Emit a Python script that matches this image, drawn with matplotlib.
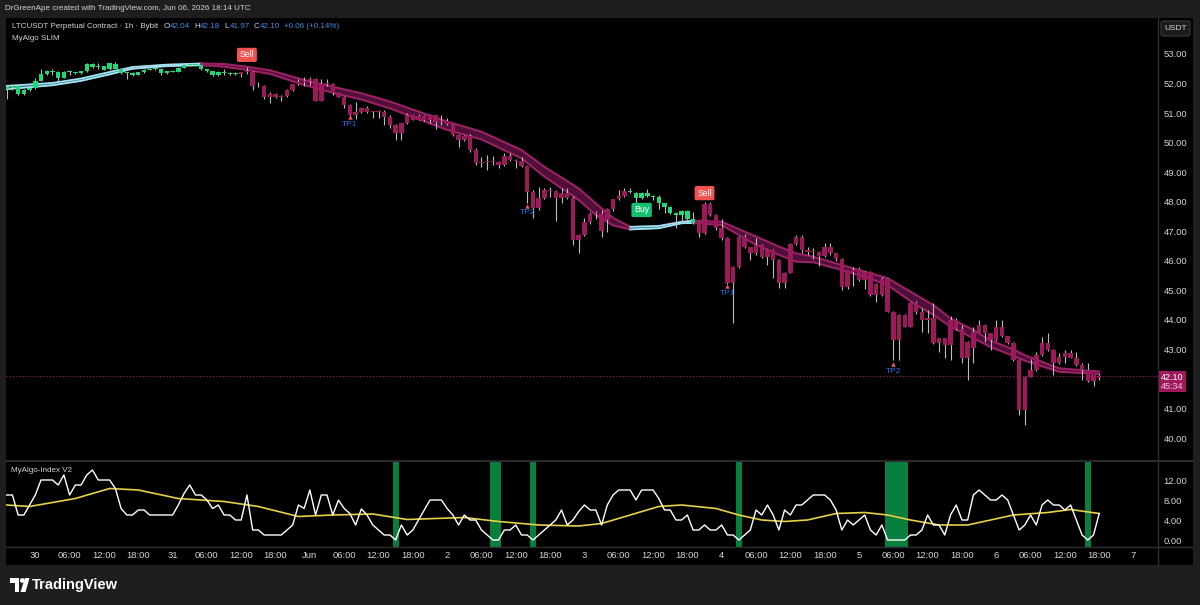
import numpy as np
import matplotlib
matplotlib.use('Agg')
import matplotlib.pyplot as plt
from matplotlib.patches import Rectangle, FancyBboxPatch, Polygon, Circle

plt.rcParams['font.family'] = ['Liberation Sans', 'DejaVu Sans']

# ---------------- data (LTCUSDT 1h, May 29 19:00 -> Jun 6 18:00) ----------------
opens = [
    51.80, 51.88, 51.90, 51.64, 51.78, 51.86, 52.10, 52.32, 52.42, 52.40,
    52.20, 52.39, 52.38, 52.35, 52.42, 52.66, 52.55, 52.59, 52.50, 52.66,
    52.50, 52.35, 52.36, 52.30, 52.38, 52.47, 52.49, 52.50, 52.35, 52.42,
    52.40, 52.53, 52.63, 52.62, 52.62, 52.48, 52.42, 52.28, 52.40, 52.36,
    52.33, 52.33, 52.38, 52.40, 51.90, 51.93, 51.55, 51.66, 51.55, 51.57,
    51.78, 51.97, 52.06, 52.10, 52.15, 51.42, 51.98, 52.00, 51.68, 51.56,
    51.27, 50.93, 51.05, 51.16, 51.02, 51.06, 51.04, 50.88, 50.60, 50.31,
    50.65, 50.93, 50.78, 50.90, 50.78, 50.93, 50.70, 50.72, 50.62, 50.27,
    50.10, 50.22, 49.75, 49.30, 49.36, 49.38, 49.36, 49.24, 49.55, 49.42,
    49.38, 49.20, 48.34, 47.78, 48.14, 48.40, 48.36, 48.13, 48.28, 48.14,
    46.70, 46.87, 47.32, 47.60, 47.58, 47.38, 47.74, 48.08, 48.19, 48.37,
    48.31, 48.13, 48.31, 48.19, 48.17, 47.94, 47.83, 47.61, 47.55, 47.70,
    47.40, 47.28, 46.93, 47.91, 47.55, 47.10, 46.76, 45.24, 45.78, 46.82,
    46.46, 46.25, 46.54, 46.14, 46.37, 46.03, 45.24, 45.60, 46.57, 46.82,
    46.37, 46.31, 46.30, 46.16, 46.48, 46.25, 46.05, 45.10, 45.69, 45.71,
    45.35, 45.63, 44.84, 44.85, 45.40, 44.28, 43.32, 44.17, 43.77, 44.56,
    44.25, 44.00, 44.05, 43.21, 43.37, 43.15, 43.99, 43.70, 42.70, 43.04,
    43.60, 43.83, 43.55, 43.32, 43.77, 43.45, 43.21, 42.64, 40.95, 42.08,
    42.30, 42.81, 43.21, 42.98, 42.53, 42.75, 42.89, 42.72, 42.47, 42.30,
    41.92, 42.04]
highs = [
    51.92, 52.00, 51.93, 51.80, 51.90, 52.18, 52.48, 52.45, 52.48, 52.42,
    52.42, 52.46, 52.40, 52.44, 52.68, 52.68, 52.71, 52.60, 52.70, 52.73,
    52.52, 52.40, 52.38, 52.40, 52.49, 52.52, 52.55, 52.52, 52.44, 52.47,
    52.55, 52.68, 52.68, 52.66, 52.64, 52.50, 52.44, 52.42, 52.48, 52.38,
    52.38, 52.40, 52.55, 52.42, 52.05, 51.95, 51.70, 51.68, 51.62, 51.80,
    51.99, 52.17, 52.23, 52.22, 52.18, 52.14, 52.17, 52.02, 51.70, 51.58,
    51.30, 51.39, 51.18, 51.25, 51.08, 51.12, 51.10, 50.93, 50.62, 50.66,
    51.01, 50.98, 50.97, 50.95, 50.97, 50.95, 50.93, 50.82, 50.63, 50.30,
    50.25, 50.30, 49.82, 49.52, 49.58, 49.54, 49.38, 49.64, 49.64, 49.46,
    49.50, 49.24, 48.40, 48.49, 48.46, 48.50, 48.40, 48.45, 48.48, 48.18,
    46.90, 47.44, 47.66, 47.70, 47.73, 47.78, 48.10, 48.40, 48.45, 48.45,
    48.33, 48.33, 48.43, 48.23, 48.23, 47.97, 47.85, 47.65, 47.72, 47.72,
    47.66, 47.30, 48.00, 48.00, 47.60, 47.40, 46.80, 45.82, 46.85, 46.90,
    46.48, 46.76, 46.57, 46.40, 46.40, 46.05, 45.62, 46.60, 46.87, 46.87,
    46.45, 46.42, 46.33, 46.61, 46.59, 46.27, 46.08, 45.70, 45.80, 45.80,
    45.65, 45.66, 45.26, 45.45, 45.42, 44.30, 44.20, 44.20, 44.62, 44.64,
    44.39, 44.33, 44.56, 43.40, 43.40, 44.13, 44.05, 43.83, 43.30, 43.77,
    43.99, 43.86, 43.57, 43.99, 43.99, 43.47, 43.24, 42.68, 42.10, 42.66,
    42.92, 43.41, 43.54, 43.00, 42.87, 42.98, 42.98, 42.92, 42.53, 42.53,
    42.15, 42.18]
lows = [
    51.46, 51.78, 51.62, 51.60, 51.75, 51.82, 52.08, 52.30, 52.30, 52.10,
    52.18, 52.30, 52.33, 52.33, 52.40, 52.52, 52.48, 52.45, 52.45, 52.48,
    52.33, 52.14, 52.24, 52.28, 52.36, 52.45, 52.47, 52.28, 52.33, 52.38,
    52.38, 52.51, 52.58, 52.60, 52.45, 52.38, 52.25, 52.26, 52.30, 52.28,
    52.30, 52.22, 52.32, 51.78, 51.88, 51.46, 51.34, 51.50, 51.42, 51.55,
    51.76, 51.95, 51.93, 51.95, 51.40, 51.40, 51.90, 51.62, 51.54, 51.16,
    50.87, 50.79, 51.00, 51.00, 50.85, 50.83, 50.60, 50.48, 50.09, 50.09,
    50.62, 50.75, 50.76, 50.74, 50.65, 50.45, 50.60, 50.58, 50.24, 49.86,
    50.05, 49.68, 49.25, 49.19, 49.07, 49.24, 49.13, 49.22, 49.38, 49.13,
    49.18, 47.94, 47.44, 47.72, 48.10, 48.17, 47.36, 47.94, 48.10, 46.53,
    46.25, 46.85, 47.25, 47.40, 46.82, 46.98, 47.70, 48.05, 48.17, 48.30,
    47.97, 48.10, 48.17, 48.06, 47.74, 47.61, 47.58, 47.10, 47.27, 47.38,
    47.25, 46.82, 46.90, 47.52, 47.05, 46.72, 45.20, 43.88, 45.75, 46.44,
    46.03, 46.20, 46.10, 45.86, 45.41, 45.07, 45.07, 45.58, 46.55, 46.25,
    46.20, 46.05, 45.82, 46.14, 46.20, 46.00, 45.00, 45.05, 45.13, 45.33,
    45.03, 44.82, 44.62, 44.82, 44.25, 42.64, 42.64, 43.75, 43.75, 44.20,
    43.60, 43.55, 43.19, 42.92, 42.70, 42.64, 43.66, 42.53, 41.97, 42.53,
    43.58, 43.26, 42.98, 43.30, 43.43, 43.19, 42.60, 40.78, 40.44, 42.05,
    42.28, 42.78, 42.95, 42.13, 42.50, 42.53, 42.70, 42.45, 41.97, 41.90,
    41.76, 41.97]
closes = [
    51.88, 51.90, 51.64, 51.78, 51.86, 52.10, 52.32, 52.42, 52.40, 52.20,
    52.39, 52.38, 52.35, 52.42, 52.66, 52.55, 52.59, 52.47, 52.68, 52.50,
    52.35, 52.36, 52.30, 52.38, 52.47, 52.49, 52.52, 52.35, 52.42, 52.40,
    52.53, 52.63, 52.62, 52.63, 52.48, 52.42, 52.28, 52.40, 52.36, 52.33,
    52.33, 52.38, 52.40, 51.90, 51.93, 51.55, 51.66, 51.55, 51.57, 51.78,
    51.97, 52.06, 52.10, 52.15, 51.42, 51.98, 52.00, 51.68, 51.56, 51.27,
    50.93, 51.05, 51.16, 51.02, 51.06, 51.04, 50.88, 50.60, 50.31, 50.65,
    50.93, 50.78, 50.90, 50.78, 50.93, 50.70, 50.72, 50.62, 50.27, 50.10,
    50.22, 49.75, 49.30, 49.36, 49.38, 49.36, 49.24, 49.55, 49.42, 49.38,
    49.20, 48.34, 47.78, 48.14, 48.40, 48.36, 48.13, 48.28, 48.14, 46.70,
    46.87, 47.32, 47.60, 47.58, 47.00, 47.74, 48.08, 48.19, 48.37, 48.34,
    48.13, 48.31, 48.19, 48.17, 47.94, 47.83, 47.61, 47.55, 47.70, 47.40,
    47.28, 46.93, 47.91, 47.55, 47.10, 46.76, 45.24, 45.78, 46.82, 46.46,
    46.25, 46.54, 46.14, 46.37, 46.03, 45.24, 45.60, 46.57, 46.82, 46.37,
    46.31, 46.30, 46.16, 46.48, 46.25, 46.05, 45.10, 45.69, 45.63, 45.35,
    45.63, 44.84, 45.22, 45.40, 44.28, 43.32, 44.17, 43.77, 44.56, 44.25,
    44.00, 44.05, 43.21, 43.37, 43.15, 43.99, 43.70, 42.70, 43.26, 43.60,
    43.83, 43.55, 43.32, 43.77, 43.45, 43.21, 42.64, 40.95, 42.08, 42.30,
    42.81, 43.21, 42.98, 42.53, 42.75, 42.89, 42.72, 42.47, 42.30, 41.92,
    42.13, 42.10]

# candle index ranges coloured as up-trend (green); the rest is down-trend (magenta)
candle_up_ranges = [(0, 40), (109, 120)]

# trend band (two lines) keypoints
band_idx = [0, 8, 13, 18, 22, 28, 34, 38, 42, 46, 52, 57, 62, 67, 77, 83, 90, 94, 100, 103,
            106, 109, 114, 118, 120, 125, 131, 135, 138, 141, 145, 150, 154, 159, 162, 165,
            169, 172, 176, 178, 184, 191]
band_hi = [51.92, 52.02, 52.17, 52.39, 52.56, 52.64, 52.68, 52.66, 52.57, 52.45, 52.12, 51.89,
           51.67, 51.39, 50.71, 50.37, 49.75, 49.18, 48.45, 47.94, 47.45, 47.15, 47.18, 47.32,
           47.36, 47.32, 46.82, 46.48, 46.25, 46.14, 45.91, 45.63, 45.41, 44.84, 44.50, 44.05,
           43.66, 43.30, 43.00, 42.80, 42.36, 42.25]
band_lo = [51.81, 51.94, 52.09, 52.31, 52.50, 52.59, 52.62, 52.57, 52.46, 52.33, 51.95, 51.69,
           51.46, 51.16, 50.43, 50.11, 49.47, 48.85, 48.06, 47.55, 47.20, 47.06, 47.10, 47.27,
           47.28, 47.21, 46.54, 46.20, 45.97, 45.95, 45.74, 45.46, 45.18, 44.50, 44.17, 43.77,
           43.38, 43.08, 42.78, 42.62, 42.24, 42.17]
band_segments = [(0, 34, 'up'), (34, 109, 'dn'), (109, 120, 'up'), (120, 191, 'dn')]

# signals
sell_idx = [42, 122]
sell_price = [52.97, 48.29]
buy_idx = [111]
buy_price = [47.72]
tp_idx = [60, 91, 126, 155]
tp_text = ['TP1', 'TP2', 'TP1', 'TP2']
tp_text_price = [50.60, 47.62, 44.88, 42.24]
tp_mark_price = [50.86, 47.86, 45.13, 42.50]

# MyAlgo-Index V2
index_line = [
    9, 9, 5, 5, 7, 9, 12, 12, 12, 11,
    13, 9, 11, 11, 13, 14, 12, 12, 12, 10.3,
    6.3, 5, 5, 6, 6, 5, 5, 5, 5, 5,
    7, 9.3, 11, 9, 9, 8, 6.3, 7, 5, 5,
    4, 4, 9, 2, 2, 1, 1, 1, 1,
    2, 3, 7, 6.3, 10, 5, 9, 9, 5, 8, 6.3, 5.3,
    3, 6.2, 5, 3, 2, 1, 1, 0, 3, 1,
    2, 4, 6, 8, 8, 8, 6.3, 5, 3, 5,
    4, 4, 2, 1, 0, 0, 2, 2, 3, 1,
    1, 0, 1, 2, 3, 4, 6, 3, 4, 5.7,
    7, 6, 6, 3, 7, 9, 10, 10, 10, 8,
    10, 10, 10, 8.3, 6, 6, 4, 4, 5, 2,
    2, 3, 2, 2, 3, 1, 1, 0, 1, 2,
    6, 5, 7, 5, 2, 6, 5, 7, 7, 8,
    9, 9, 9, 8, 6, 2, 4, 3, 4, 5,
    2, 1, 3, 0, 0, 0, 0, 1, 1, 2,
    5, 3, 3, 1, 5, 7, 4, 4, 9, 10,
    9, 8, 8, 9, 8, 5, 2, 3, 5, 3,
    7, 8, 7, 7, 6, 7, 4, 1, 0, 1, 5.3]
signal_idx = [0, 4, 12, 18, 23, 30, 38, 44, 51, 57, 64, 70, 80, 86, 93, 100, 104, 109, 114,
              118, 124, 128, 132, 136, 140, 145, 150, 154, 158, 163, 168, 172, 176, 182, 186, 191]
signal_val = [7, 6.7, 8.3, 10.3, 10, 8.3, 7.7, 6.7, 4.7, 5, 5.2, 4.1, 4.5, 3.7, 3, 2.8, 3.3, 5,
              6.7, 7, 6.3, 5, 4, 3.7, 4, 5.3, 5.5, 5, 4, 3, 3, 4, 5, 5.5, 6.1, 5.3]
oversold_idx = [68, 85, 86, 92, 128, 154, 155, 156, 157, 189]

price_ticks = [40, 41, 43, 44, 45, 46, 47, 48, 49, 50, 51, 52, 53]
index_ticks = [0, 4, 8, 12]
time_tick_idx = list(range(5, 198, 6))
time_labels = ['30', '06:00', '12:00', '18:00', '31', '06:00', '12:00', '18:00',
               'Jun', '06:00', '12:00', '18:00', '2', '06:00', '12:00', '18:00',
               '3', '06:00', '12:00', '18:00', '4', '06:00', '12:00', '18:00',
               '5', '06:00', '12:00', '18:00', '6', '06:00', '12:00', '18:00', '7']

assert len(opens) == len(highs) == len(lows) == len(closes) == len(index_line) == 192

# ---------------- styling ----------------
W, H = 1200, 605
FRAME = '#1e1e1e'
TXT = '#d1d4dc'
UP = '#1ed87a'
DN = '#9c1a5c'
WICK = '#bcbcbc'

fig = plt.figure(figsize=(W / 100, H / 100), dpi=100, facecolor=FRAME)


def rect(x0, y0, x1, y1):
    return [x0 / W, 1 - y1 / H, (x1 - x0) / W, (y1 - y0) / H]


under = fig.add_axes([0, 0, 1, 1], zorder=0)
under.set_xlim(0, W); under.set_ylim(H, 0); under.axis('off')
under.add_patch(Rectangle((6, 18), 1187, 547, color='black', lw=0))

XL = ((6 - 6.7) / 5.72, (1158 - 6.7) / 5.72)

ax = fig.add_axes(rect(6, 18, 1158, 461), zorder=1)
axi = fig.add_axes(rect(6, 461, 1158, 547), zorder=1)
for a in (ax, axi):
    a.set_facecolor('none')
    for s in a.spines.values():
        s.set_visible(False)
    a.set_xlim(*XL)
    a.yaxis.tick_right()
    a.tick_params(axis='y', length=0, pad=4, labelsize=6.8, colors=TXT)

# ---- main price panel ----
ax.set_ylim(54.828 - 461 / 29.54, 54.828 - 18 / 29.54)
n = len(closes)
x = np.arange(n)
o = np.array(opens); c = np.array(closes); h = np.array(highs); l = np.array(lows)
is_up = np.zeros(n, bool)
for a0, a1 in candle_up_ranges:
    is_up[a0:a1 + 1] = True
cols = np.where(is_up, UP, DN)

bi = np.array(band_idx); bh = np.array(band_hi); bl = np.array(band_lo)
for a0, a1, kind in band_segments:
    m = (bi >= a0) & (bi <= a1)
    if kind == 'up':
        ax.fill_between(bi[m], bl[m], bh[m], color='#2a6a80', lw=0, zorder=1)
        ax.plot(bi[m], bh[m], color='#a6e4f4', lw=1.3, zorder=1.5)
        ax.plot(bi[m], bl[m], color='#a6e4f4', lw=1.3, zorder=1.5)
    else:
        ax.fill_between(bi[m], bl[m], bh[m], color='#4f0f36', lw=0, zorder=1)
        ax.plot(bi[m], bh[m], color='#9a2166', lw=1.5, zorder=1.5)
        ax.plot(bi[m], bl[m], color='#9a2166', lw=1.5, zorder=1.5)

ax.vlines(x, l, h, color=WICK, lw=0.8, zorder=2)
bottom = np.minimum(o, c)
height = np.maximum(np.abs(c - o), 0.03)
ax.bar(x, height, bottom=bottom, width=0.78, color=cols, lw=0, zorder=3)

ax.axhline(closes[-1], color=DN, lw=0.8, ls=(0, (1, 2)), zorder=0.5)

for i, p in zip(sell_idx, sell_price):
    ax.text(i, p, 'Sell', color='white', fontsize=6.3, ha='center', va='center', zorder=5,
            bbox=dict(boxstyle='round,pad=0.3,rounding_size=0.2', fc='#f05350', ec='none'))
for i, p in zip(buy_idx, buy_price):
    ax.text(i, p, 'Buy', color='white', fontsize=6.3, ha='center', va='center', zorder=5,
            bbox=dict(boxstyle='round,pad=0.3,rounding_size=0.2', fc='#13c26f', ec='none'))
for i, t, pt, pm in zip(tp_idx, tp_text, tp_text_price, tp_mark_price):
    ax.plot(i, pm, marker='^', color='#f7525f', ms=3.2, mew=0, zorder=5)
    ax.text(i, pt, t, color='#2f6fe6', fontsize=6, ha='center', va='center', zorder=5)

ax.set_yticks(price_ticks)
ax.set_yticklabels(['%.2f' % v for v in price_ticks])
ax.set_xticks([])

# ---- indicator panel ----
axi.set_ylim(-1.4, 15.8)
runs = []
for i in oversold_idx:
    if runs and i == runs[-1][1] + 1:
        runs[-1][1] = i
    else:
        runs.append([i, i])
for a0, a1 in runs:
    axi.axvspan(a0 - 0.5, a1 + 0.5, color='#087f3d', lw=0, zorder=1)
axi.plot(signal_idx, signal_val, color='#e4d145', lw=1.2, zorder=2)
axi.plot(x, index_line, color='white', lw=1.0, zorder=3)
axi.set_yticks(index_ticks)
axi.set_yticklabels(['%.2f' % v for v in index_ticks])
axi.set_xticks(time_tick_idx)
axi.set_xticklabels(time_labels)
axi.tick_params(axis='x', length=0, pad=3, labelsize=6.8, colors=TXT)

# ---------------- overlay decorations (pixel coordinates) ----------------
over = fig.add_axes([0, 0, 1, 1], zorder=10)
over.set_xlim(0, W); over.set_ylim(H, 0); over.axis('off')
over.patch.set_alpha(0)

sep = '#2e2e2e'
over.plot([1158, 1158], [18, 565], color=sep, lw=1)
over.plot([6, 1193], [461, 461], color='#2a2a2a', lw=1.5)
over.plot([6, 1193], [547, 547], color=sep, lw=1)

renderer = fig.canvas.get_renderer()


def text_run(x0, y0, pieces, fs):
    xx = x0
    for s, col, gap in pieces:
        t = over.text(xx, y0, s, color=col, fontsize=fs, va='center', ha='left')
        bb = t.get_window_extent(renderer=renderer)
        xx += bb.width + gap


over.text(5, 9, 'DrGreenApe created with TradingView.com, Jun 06, 2026 18:14 UTC',
          color=TXT, fontsize=5.8, va='center', ha='left')
VAL = '#3d8fe3'
text_run(12, 27, [('LTCUSDT Perpetual Contract \u00b7 1h \u00b7 Bybit', TXT, 5),
                  ('O', TXT, 0.5), ('42.04', VAL, 4),
                  ('H', TXT, 0.5), ('42.18', VAL, 4),
                  ('L', TXT, 0.5), ('41.97', VAL, 4),
                  ('C', TXT, 0.5), ('42.10', VAL, 4),
                  ('+0.06 (+0.14%)', VAL, 0)], 5.8)
over.text(12, 38, 'MyAlgo SLIM', color=TXT, fontsize=5.8, va='center', ha='left')
over.text(11, 470, 'MyAlgo-Index V2', color=TXT, fontsize=5.8, va='center', ha='left')

over.add_patch(FancyBboxPatch((1161, 21), 29, 15, boxstyle='round,pad=0,rounding_size=2',
                              fc='#1c1c1c', ec='#3a3a3a', lw=0.8))
over.text(1175.5, 28.5, 'USDT', color=TXT, fontsize=6, ha='center', va='center')

over.add_patch(Rectangle((1158, 371), 28, 21, color='#a0195d', lw=0))
over.text(1172, 377, '%.2f' % closes[-1], color='white', fontsize=6.5, ha='center', va='center')
over.text(1172, 386.5, '45:34', color='#f2c4dc', fontsize=6.5, ha='center', va='center')

# TradingView logo
over.add_patch(Polygon([(10, 578), (19, 578), (19, 592), (15, 592), (15, 582.5), (10, 582.5)],
                       closed=True, fc='white', ec='none'))
over.add_patch(Circle((22.3, 580.5), 2.4, fc='white', ec='none'))
over.add_patch(Polygon([(25, 578), (29.5, 578), (25.5, 592), (20.5, 592)], closed=True,
                       fc='white', ec='none'))
over.text(32, 585, 'TradingView', color='white', fontsize=10.5, fontweight='bold',
          ha='left', va='center')

fig.savefig('out.png', dpi=100, facecolor=FRAME)
